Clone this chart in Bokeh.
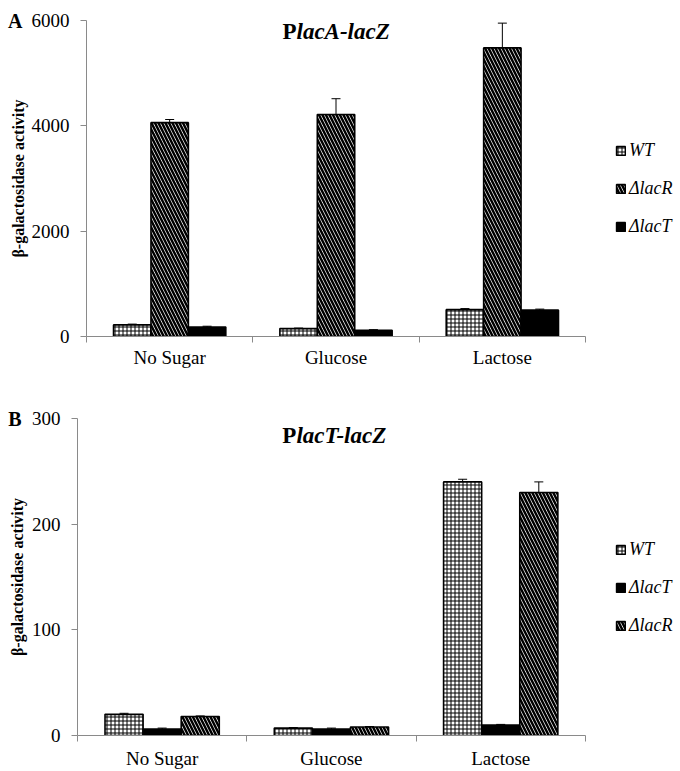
from bokeh.plotting import figure
from bokeh.models import (Range1d, FixedTicker, Whisker, TeeHead, ColumnDataSource,
                          Legend, LegendItem, Label, LinearAxis)
from bokeh.embed import file_html
from bokeh.resources import INLINE

FONT = "Liberation Serif"

categories = ["No Sugar", "Glucose", "Lactose"]

# Panel A : PlacA-lacZ
a_strains = ["WT", "ΔlacR", "ΔlacT"]
a_wt = [220, 150, 510]
a_wt_err = [15, 10, 20]
a_lacR = [4060, 4215, 5480]
a_lacR_err = [60, 300, 470]
a_lacT = [180, 120, 500]
a_lacT_err = [15, 10, 20]
a_yticks = [0, 2000, 4000, 6000]

# Panel B : PlacT-lacZ
b_strains = ["WT", "ΔlacT", "ΔlacR"]
b_wt = [20, 7, 240]
b_wt_err = [1, 0.5, 2.5]
b_lacT = [6, 6, 10]
b_lacT_err = [1, 1, 0.5]
b_lacR = [18, 8, 230]
b_lacR_err = [0.5, 0.5, 10]
b_yticks = [0, 100, 200, 300]

STYLE = {
    "WT": dict(fill_color="white", hatch_pattern="+", hatch_scale=4, hatch_weight=1, hatch_color="black"),
    "ΔlacR": dict(fill_color="white", hatch_pattern="\\", hatch_scale=7, hatch_weight=2.5, hatch_color="black"),
    "ΔlacT": dict(fill_color="black"),
}

BAR_W = 0.225
AX_COL = "#8a8a8a"


def make_panel(letter, title_rest, strains, series, errs, yticks, *, height, border_left,
               border_top, border_bottom, xend, legend_loc, title_xy, label_standoff,
               x_standoff):
    ymax = yticks[-1]
    p = figure(width=680, height=height, x_range=Range1d(0, xend), y_range=Range1d(0, ymax),
               output_backend="svg", toolbar_location=None,
               min_border_left=border_left, min_border_right=0,
               min_border_top=border_top, min_border_bottom=border_bottom)
    p.outline_line_color = None
    p.grid.visible = False
    p.background_fill_color = "white"

    items = []
    n = len(strains)
    for k, (s, vals, er) in enumerate(zip(strains, series, errs)):
        off = (k - (n - 1) / 2) * BAR_W
        xs = [i + 0.5 + off for i in range(len(categories))]
        src = ColumnDataSource(dict(x=xs, top=vals,
                                    upper=[v + e for v, e in zip(vals, er)],
                                    lower=[v - e for v, e in zip(vals, er)]))
        r = p.vbar(x="x", top="top", bottom=0, width=BAR_W, source=src,
                   line_color="black", line_width=1.6, **STYLE[s])
        w = Whisker(base="x", upper="upper", lower="lower", source=src,
                    line_color="black", line_width=1,
                    upper_head=TeeHead(size=9, line_color="black", line_width=1),
                    lower_head=TeeHead(size=9, line_color="black", line_width=1))
        p.add_layout(w)
        items.append(LegendItem(label=s, renderers=[r]))

    legend = Legend(items=items, location=legend_loc, padding=0, margin=0, spacing=14,
                    glyph_width=11, glyph_height=11, label_height=24, label_standoff=3,
                    border_line_color=None, background_fill_alpha=0,
                    label_text_font=FONT, label_text_font_style="italic",
                    label_text_font_size="18px", label_text_color="black")
    p.add_layout(legend)

    # x axis
    xa = p.xaxis[0]
    xa.ticker = FixedTicker(ticks=[i + 0.5 for i in range(len(categories))],
                            minor_ticks=list(range(len(categories) + 1)))
    xa.major_label_overrides = {i + 0.5: c for i, c in enumerate(categories)}
    xa.bounds = (0, len(categories))
    xa.major_tick_out = 0
    xa.major_tick_in = 0
    xa.minor_tick_out = 6
    xa.minor_tick_in = 0
    xa.axis_line_color = AX_COL
    xa.minor_tick_line_color = AX_COL
    xa.major_label_standoff = x_standoff
    xa.major_label_text_font = FONT
    xa.major_label_text_font_size = "19px"
    xa.major_label_text_color = "black"

    # y axis
    ya = p.yaxis[0]
    ya.ticker = FixedTicker(ticks=yticks, minor_ticks=[])
    ya.major_tick_out = 6
    ya.major_tick_in = 0
    ya.minor_tick_out = 0
    ya.minor_tick_in = 0
    ya.axis_line_color = AX_COL
    ya.major_tick_line_color = AX_COL
    ya.major_label_standoff = 11
    ya.major_label_text_font = FONT
    ya.major_label_text_font_size = "19px"
    ya.major_label_text_color = "black"
    ya.axis_label = "β-galactosidase activity"
    ya.axis_label_text_font = FONT
    ya.axis_label_text_font_style = "bold"
    ya.axis_label_text_font_size = "16px"
    ya.axis_label_text_color = "black"
    ya.axis_label_standoff = label_standoff

    # panel letter as an outer, line-less axis label at the top of the y range
    la = LinearAxis(ticker=FixedTicker(ticks=[ymax], minor_ticks=[]),
                    major_label_overrides={ymax: letter},
                    axis_line_color=None, major_tick_line_color=None,
                    minor_tick_line_color=None, major_tick_out=0, major_tick_in=0,
                    minor_tick_out=0, minor_tick_in=0, major_label_standoff=-16,
                    major_label_text_font=FONT, major_label_text_font_style="bold",
                    major_label_text_font_size="20px", major_label_text_color="black")
    p.add_layout(la, "left")

    # title
    tx, ty = title_xy
    p.add_layout(Label(x=tx, y=ty, text="P", text_align="right", text_baseline="middle",
                       text_font=FONT, text_font_style="bold", text_font_size="23px",
                       text_color="black"))
    p.add_layout(Label(x=tx, y=ty, text=title_rest, text_align="left", text_baseline="middle",
                       text_font=FONT, text_font_style="bold italic", text_font_size="23px",
                       text_color="black"))
    return p


pA = make_panel("A", "lacA-lacZ", a_strains, [a_wt, a_lacR, a_lacT],
                [a_wt_err, a_lacR_err, a_lacT_err], a_yticks,
                height=378, border_left=86, border_top=20, border_bottom=42, xend=3.571,
                legend_loc=(529, 98), title_xy=(1.2625, 5791), label_standoff=2,
                x_standoff=4)

pB = make_panel("B", "lacT-lacZ", b_strains, [b_wt, b_lacT, b_lacR],
                [b_wt_err, b_lacT_err, b_lacR_err], b_yticks,
                height=393, border_left=77, border_top=40, border_bottom=35, xend=3.562,
                legend_loc=(538, 98), title_xy=(1.293, 284), label_standoff=3,
                x_standoff=6)

# two separate roots, stacked on the page (avoids frame alignment between panels)
open("out.html", "w").write(file_html([pA, pB], INLINE))
